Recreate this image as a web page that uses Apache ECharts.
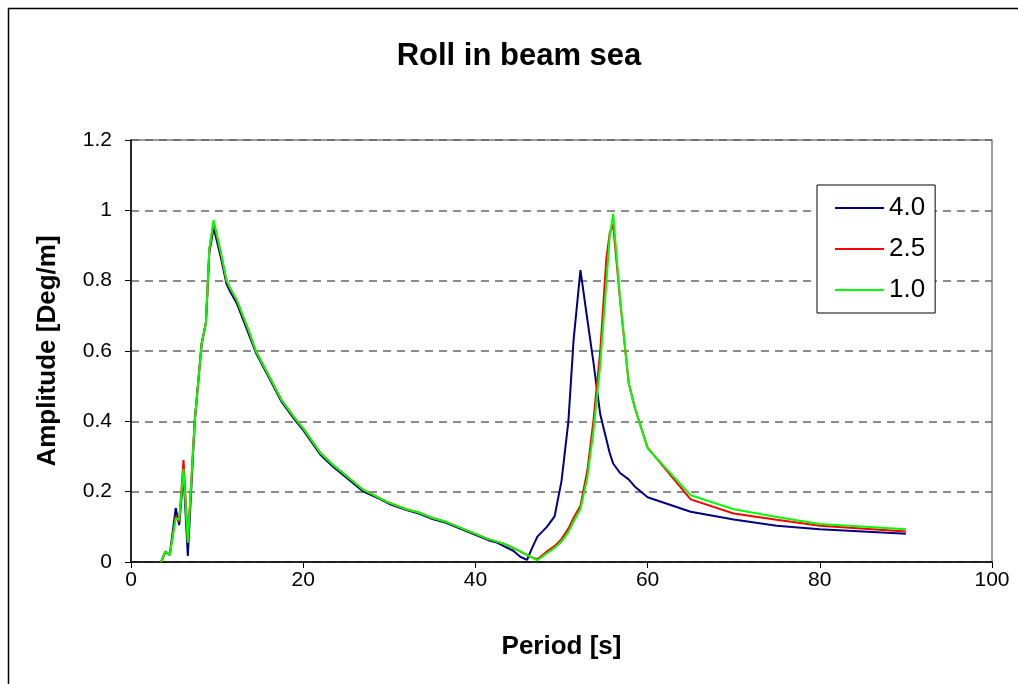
<!DOCTYPE html>
<html>
<head>
<meta charset="utf-8">
<script src="https://cdn.jsdelivr.net/npm/echarts@6/dist/echarts.min.js"></script>
<style>
  html, body { margin: 0; padding: 0; background: #fff; }
  #chart { width: 1018px; height: 684px; }
</style>
</head>
<body>
<div id="chart"></div>
<script>
// wave period [s]
var periods = [3.5, 4.0, 4.5, 5.2, 5.6, 6.1, 6.6, 7.4, 8.2, 8.7, 9.1, 9.6, 10.4, 11.1, 11.5, 12.3, 13.8, 14.5,
  16, 17.5, 19, 20, 21, 22, 23.5, 25, 27, 29, 30, 32, 33.5, 35, 36.5, 38, 40, 41.5, 42.5, 43.3, 44.4, 45.2,
  46, 46.5, 47.2, 48.3, 49.2, 50, 50.8, 51.4, 52.2, 53, 53.7, 54.5, 55.2, 55.6, 56, 56.8, 57.8, 58.5,
  60, 65, 70, 75, 80, 90];

// amplitude [deg/m] per case
var amp40 = [0, 0.03, 0.02, 0.154, 0.105, 0.25, 0.017, 0.40, 0.62, 0.68, 0.88, 0.95, 0.87, 0.79, 0.77, 0.735, 0.64, 0.595,
  0.525, 0.455, 0.405, 0.375, 0.34, 0.305, 0.27, 0.24, 0.2, 0.178, 0.165, 0.148, 0.137, 0.122, 0.112, 0.097, 0.077, 0.062, 0.055, 0.045, 0.032, 0.015,
  0.006, 0.035, 0.072, 0.10, 0.13, 0.23, 0.40, 0.63, 0.83, 0.69, 0.57, 0.42, 0.35, 0.31, 0.28, 0.253, 0.235, 0.215,
  0.184, 0.143, 0.121, 0.103, 0.093, 0.08];
var amp25 = [0, 0.03, 0.02, 0.13, 0.115, 0.29, 0.06, 0.40, 0.62, 0.68, 0.89, 0.965, 0.882, 0.798, 0.778, 0.743, 0.648, 0.60,
  0.53, 0.46, 0.41, 0.38, 0.345, 0.31, 0.275, 0.245, 0.205, 0.18, 0.168, 0.15, 0.14, 0.125, 0.115, 0.10, 0.08, 0.065, 0.058, 0.052, 0.04, 0.03,
  0.02, 0.014, 0.008, 0.03, 0.045, 0.065, 0.095, 0.125, 0.16, 0.26, 0.40, 0.60, 0.86, 0.935, 0.96, 0.745, 0.51, 0.44,
  0.325, 0.178, 0.138, 0.12, 0.103, 0.087];
var amp10 = [0, 0.03, 0.02, 0.125, 0.12, 0.265, 0.055, 0.40, 0.62, 0.68, 0.89, 0.972, 0.885, 0.80, 0.78, 0.745, 0.65, 0.60,
  0.53, 0.46, 0.41, 0.38, 0.345, 0.31, 0.275, 0.245, 0.205, 0.18, 0.168, 0.15, 0.14, 0.125, 0.115, 0.10, 0.08, 0.065, 0.058, 0.052, 0.04, 0.03,
  0.02, 0.014, 0.005, 0.025, 0.04, 0.058, 0.085, 0.115, 0.15, 0.24, 0.37, 0.56, 0.79, 0.925, 0.99, 0.75, 0.51, 0.44,
  0.323, 0.19, 0.15, 0.128, 0.108, 0.093];

var caseNames = ['4.0', '2.5', '1.0'];
var caseColors = ['#000080', '#ff0000', '#00ff00'];

function pairs(ys) {
  return periods.map(function (p, i) { return [p, ys[i]]; });
}

var font = 'Liberation Sans, Arial, sans-serif';
var chart = echarts.init(document.getElementById('chart'));

var option = {
  backgroundColor: '#fff',
  animation: false,
  title: {
    text: 'Roll in beam sea',
    left: 514,
    top: 36,
    textAlign: 'center',
    textStyle: { fontFamily: font, fontSize: 31, fontWeight: 'bold', color: '#000' }
  },
  graphic: [{
    type: 'rect',
    shape: { x: 8.5, y: 8.5, width: 1100, height: 800 },
    style: { fill: 'none', stroke: '#000', lineWidth: 1.5 },
    silent: true
  }],
  grid: {
    left: 131, right: 26, top: 140, bottom: 122,
    show: true, borderColor: '#808080', borderWidth: 1.5
  },
  legend: {
    orient: 'vertical',
    left: 817, top: 185,
    padding: [10, 10, 10, 18],
    icon: 'rect',
    itemWidth: 49, itemHeight: 2, itemGap: 15,
    backgroundColor: '#fff',
    borderColor: '#000', borderWidth: 1,
    textStyle: { fontFamily: font, fontSize: 26, color: '#000', lineHeight: 26 },
    data: caseNames
  },
  xAxis: {
    type: 'value',
    min: 0, max: 100, interval: 20,
    name: 'Period [s]',
    nameLocation: 'middle',
    nameGap: 72,
    nameTextStyle: { fontFamily: font, fontSize: 26, fontWeight: 'bold', color: '#000' },
    axisLine: { lineStyle: { color: '#000', width: 1.5 } },
    axisTick: { show: true, inside: false, length: 6, lineStyle: { color: '#000' } },
    axisLabel: { fontFamily: font, fontSize: 21, color: '#000', margin: 8 },
    splitLine: { show: false }
  },
  yAxis: {
    type: 'value',
    min: 0, max: 1.2, interval: 0.2,
    name: 'Amplitude [Deg/m]',
    nameLocation: 'middle',
    nameGap: 70,
    nameTextStyle: { fontFamily: font, fontSize: 26, fontWeight: 'bold', color: '#000' },
    axisLine: { show: true, lineStyle: { color: '#000', width: 1.5 } },
    axisTick: { show: true, inside: false, length: 6, lineStyle: { color: '#000' } },
    axisLabel: {
      fontFamily: font, fontSize: 21, color: '#000', margin: 19,
      formatter: function (v) { return String(Math.round(v * 10) / 10); }
    },
    splitLine: { show: true, lineStyle: { color: '#666', type: [8, 6], width: 1.5 } }
  },
  series: [amp40, amp25, amp10].map(function (ys, i) {
    return {
      name: caseNames[i],
      type: 'line',
      data: pairs(ys),
      symbol: 'none',
      lineStyle: { color: caseColors[i], width: 2 },
      itemStyle: { color: caseColors[i] }
    };
  })
};

chart.setOption(option);
</script>
</body>
</html>
